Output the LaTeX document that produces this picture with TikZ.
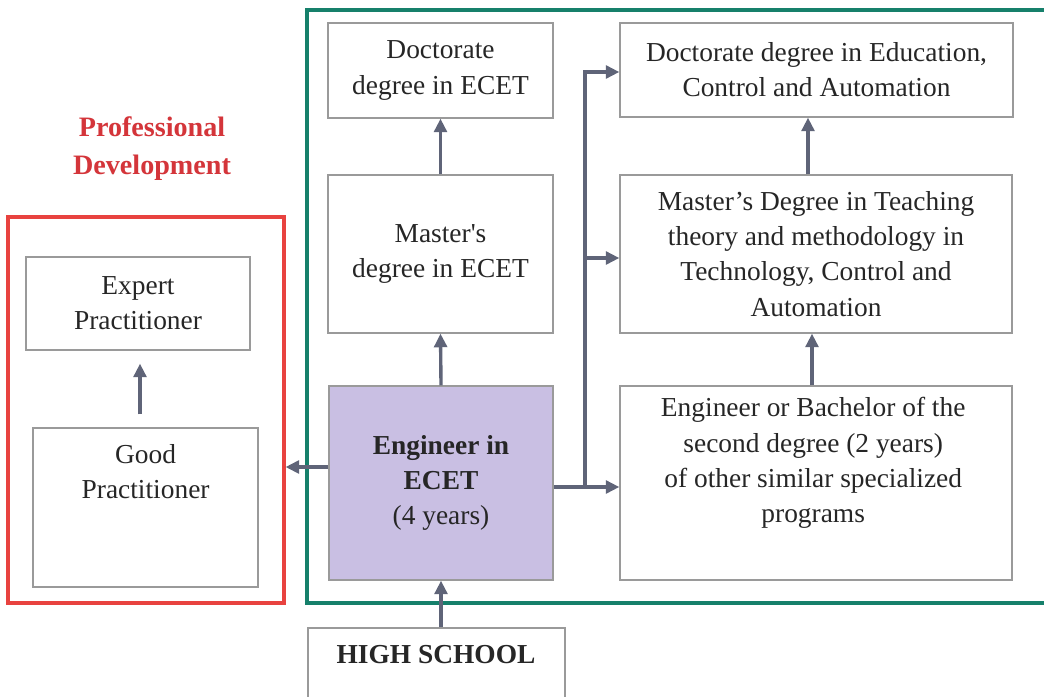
\documentclass[tikz,border=0pt]{standalone}
\usepackage{fontspec}
\setmainfont{Liberation Serif}
\usepackage{xcolor}
\usetikzlibrary{arrows.meta, positioning}
\definecolor{flowgray}{HTML}{5F6478}
\definecolor{boxgray}{HTML}{9A9A9A}
\definecolor{textgray}{HTML}{262626}
\definecolor{progteal}{HTML}{16806B}
\definecolor{profred}{HTML}{E8423F}
\definecolor{titlered}{HTML}{D4353A}
\definecolor{ecetfill}{HTML}{C9BFE3}
\tikzstyle{arrow} = [line width=2.4pt, draw=flowgray, -{Triangle[length=0.34cm, width=0.32cm]}]

\begin{document}
\begin{tikzpicture}[
        box/.style={draw=boxgray, line width=0.9pt, fill=white, inner sep=0pt, text=textgray, align=center, font=\fontsize{19.5}{25}\selectfont},
        frame/.style={line width=2.2pt, inner sep=0pt},
        label text/.style={text=textgray, align=center, font=\fontsize{19.5}{25}\selectfont},
    ]
        \useasboundingbox (0,0) rectangle (26.1,-17.4);
        \fill[white] (0,0) rectangle (26.1,-17.4);

        \node[frame, draw=progteal, minimum width=18.825cm, minimum height=14.825cm] (prog) at (17.0875,-7.6625) {};
        \node[frame, draw=profred, minimum width=6.9cm, minimum height=9.65cm] (prof) at (3.65,-10.25) {};
        \node[align=center, text=titlered, font=\fontsize{20}{27}\selectfont\bfseries] (proftitle) at (3.8,-3.725) {Professional\\Development};

        \node[box, minimum width=5.6cm, minimum height=2.325cm] (expert) at (3.45,-7.5875) {Expert\\Practitioner};
        \node[box, minimum width=5.625cm, minimum height=3.975cm] (good) at (3.6375,-12.6875) {};
        \node[label text] (goodtxt) at (3.64,-11.78) {Good\\Practitioner};

        \node[box, minimum width=5.625cm, minimum height=2.375cm] (docE) at (11.0125,-1.7625) {Doctorate\\degree in ECET};
        \node[box, minimum width=5.625cm, minimum height=3.95cm] (masterE) at (11.0125,-6.35) {Master\textquotesingle s\\degree in ECET};
        \node[box, fill=ecetfill, minimum width=5.6cm, minimum height=4.85cm] (ecet) at (11.025,-12.075) {\textbf{Engineer in}\\\textbf{ECET}\\(4 years)};
        \node[box, minimum width=6.425cm, minimum height=2.3cm] (hs) at (10.9125,-16.85) {};
        \node[label text, font=\fontsize{19.5}{25}\selectfont\bfseries] (hstxt) at (10.9,-16.375) {HIGH SCHOOL};

        \node[box, minimum width=9.825cm, minimum height=2.35cm] (docEd) at (20.4125,-1.75) {Doctorate degree in Education,\\Control and Automation};
        \node[box, minimum width=9.8cm, minimum height=3.95cm] (masterT) at (20.4,-6.35) {Master’s Degree in Teaching\\theory and methodology in\\Technology, Control and\\Automation};
        \node[box, minimum width=9.8cm, minimum height=4.85cm] (bach) at (20.4,-12.075) {};
        \node[label text] (bachtxt) at (20.33,-11.575) {Engineer or Bachelor of the\\second degree (2 years)\\of other similar specialized\\programs};

        \coordinate (split) at (14.625,-12.175);

        \draw[arrow, shorten <=0.325cm, shorten >=0.325cm] ([xshift=-0.1375cm]good.north) -- ([xshift=-0.1375cm]good.north |- expert.south);
        \draw[arrow] (ecet.south |- hs.north) -- (ecet.south);
        \draw[arrow] (ecet.north) -- (masterE.south);
        \draw[arrow] (masterE.north) -- (docE.south);
        \draw[arrow] ([yshift=0.4cm]ecet.west) -- ([yshift=0.4cm]ecet.west -| prof.east);
        \draw[arrow] ([yshift=-0.1cm]ecet.east) -- (split) -- (split -| bach.west);
        \draw[arrow] (split) |- ([yshift=-0.05cm]docEd.west);
        \draw[arrow] ([yshift=-0.1cm]masterT.west -| split) -- ([yshift=-0.1cm]masterT.west);
        \draw[arrow] ([xshift=-0.1cm]bach.north) -- ([xshift=-0.1cm]bach.north |- masterT.south);
        \draw[arrow] ([xshift=-0.2cm]masterT.north) -- ([xshift=-0.2cm]masterT.north |- docEd.south);
    \end{tikzpicture}
\end{document}
